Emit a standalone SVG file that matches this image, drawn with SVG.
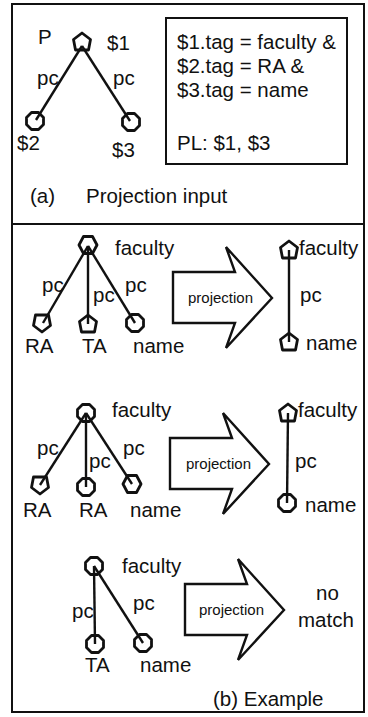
<svg xmlns="http://www.w3.org/2000/svg" width="368" height="717" viewBox="0 0 368 717">
<style>
text{font-family:"Liberation Sans",Arial,sans-serif;font-size:20.5px;fill:#111}
.s{font-size:15px}
.frame{fill:none;stroke:#111;stroke-width:2}
.n{fill:none;stroke:#111;stroke-width:2.8;stroke-linejoin:round}
.e{stroke:#111;stroke-width:2.4;fill:none}
.arrow{fill:#fff;stroke:#111;stroke-width:2.4;stroke-linejoin:miter}
</style>
<defs>
<polygon id="pu" points="0,-9 8.5,-2.5 6.5,8 -6.5,8 -8.5,-2.5"/>
<polygon id="pd" points="0,9 8.5,2.5 6.5,-8 -6.5,-8 -8.5,2.5"/>
<polygon id="oc" points="-3.5,-8.5 3.5,-8.5 8.5,-3.5 8.5,3.5 3.5,8.5 -3.5,8.5 -8.5,3.5 -8.5,-3.5"/>
<polygon id="hx" points="-4.5,-8.5 4.5,-8.5 9,0 4.5,8.5 -4.5,8.5 -9,0"/>
<polygon id="ar" points="0,-26 62,-26 53,-51 99,0 53,50 62,25 0,25"/>
</defs>
<g id="frames">
<rect class="frame" x="12" y="4" width="352" height="220"/>
<rect class="frame" x="12" y="224" width="352" height="488"/>
<rect class="frame" x="166" y="18" width="181" height="146"/>
</g>
<g id="connectors">
<line class="e" x1="82" y1="46" x2="36" y2="120"/>
<line class="e" x1="82" y1="46" x2="130" y2="121"/>
<line class="e" x1="88" y1="246" x2="43" y2="323"/>
<line class="e" x1="88" y1="246" x2="88" y2="324"/>
<line class="e" x1="88" y1="246" x2="135" y2="323"/>
<line class="e" x1="289" y1="250" x2="289" y2="342"/>
<line class="e" x1="86" y1="413" x2="40" y2="485"/>
<line class="e" x1="86" y1="413" x2="86" y2="487"/>
<line class="e" x1="86" y1="413" x2="132" y2="484"/>
<line class="e" x1="288" y1="413" x2="287" y2="503"/>
<line class="e" x1="94" y1="566" x2="95" y2="644"/>
<line class="e" x1="94" y1="566" x2="143" y2="643"/>
</g>
<g id="nodeA1"><use href="#pu" class="n" x="82" y="42"/></g>
<g id="nodeA2"><use href="#oc" class="n" x="35" y="121"/></g>
<g id="nodeA3"><use href="#oc" class="n" x="131" y="122"/></g>
<g id="labelsA">
<text x="38" y="44">P</text>
<text x="107" y="50">$1</text>
<text x="37" y="85">pc</text>
<text x="113" y="85">pc</text>
<text x="17" y="150">$2</text>
<text x="112" y="157">$3</text>
<text x="177" y="49">$1.tag = faculty &amp;</text>
<text x="177" y="73">$2.tag = RA &amp;</text>
<text x="177" y="97">$3.tag = name</text>
<text x="177" y="150">PL: $1, $3</text>
<text x="30" y="203">(a)</text>
<text x="86" y="203">Projection input</text>
</g>
<g id="ex1">
<g id="ex1-root"><use href="#hx" class="n" x="88" y="245"/></g>
<g id="ex1-ra"><use href="#pd" class="n" x="42" y="323"/></g>
<g id="ex1-ta"><use href="#pu" class="n" x="88" y="324"/></g>
<g id="ex1-name"><use href="#oc" class="n" x="135" y="323"/></g>
<g id="ex1-rf"><use href="#pu" class="n" x="289" y="250"/></g>
<g id="ex1-rn"><use href="#pu" class="n" x="289" y="342"/></g>
<text x="115" y="255">faculty</text>
<text x="42" y="292">pc</text>
<text x="93" y="302">pc</text>
<text x="125" y="292">pc</text>
<text x="25" y="353">RA</text>
<text x="82" y="353">TA</text>
<text x="133" y="353">name</text>
<use href="#ar" class="arrow" x="173" y="298"/>
<text class="s" x="188" y="303">projection</text>
<text x="299" y="255">faculty</text>
<text x="300" y="302">pc</text>
<text x="306" y="350">name</text>
</g>
<g id="ex2">
<g id="ex2-root"><use href="#oc" class="n" x="86" y="413"/></g>
<g id="ex2-ra1"><use href="#pd" class="n" x="40" y="485"/></g>
<g id="ex2-ra2"><use href="#oc" class="n" x="86" y="487"/></g>
<g id="ex2-name"><use href="#hx" class="n" x="132" y="484"/></g>
<g id="ex2-rf"><use href="#pu" class="n" x="288" y="413"/></g>
<g id="ex2-rn"><use href="#oc" class="n" x="287" y="503"/></g>
<text x="112" y="417">faculty</text>
<text x="37" y="455">pc</text>
<text x="89" y="468">pc</text>
<text x="123" y="455">pc</text>
<text x="23" y="517">RA</text>
<text x="79" y="517">RA</text>
<text x="130" y="517">name</text>
<use href="#ar" class="arrow" x="170" y="464"/>
<text class="s" x="186" y="469">projection</text>
<text x="298" y="417">faculty</text>
<text x="295" y="468">pc</text>
<text x="305" y="512">name</text>
</g>
<g id="ex3">
<g id="ex3-root"><use href="#oc" class="n" x="94" y="566"/></g>
<g id="ex3-ta"><use href="#oc" class="n" x="95" y="644"/></g>
<g id="ex3-name"><use href="#oc" class="n" x="143" y="643"/></g>
<text x="122" y="573">faculty</text>
<text x="72" y="618">pc</text>
<text x="133" y="610">pc</text>
<text x="85" y="672">TA</text>
<text x="140" y="672">name</text>
<use href="#ar" class="arrow" x="185" y="610"/>
<text class="s" x="199" y="615">projection</text>
<text x="316" y="600">no</text>
<text x="298" y="627">match</text>
<text x="213" y="706">(b) Example</text>
</g>
</svg>
